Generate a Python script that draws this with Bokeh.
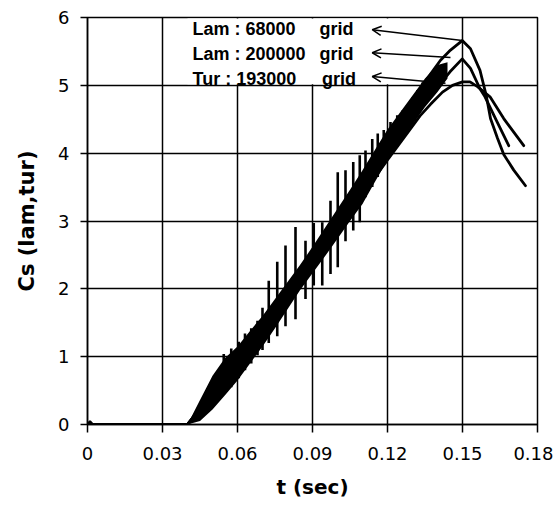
from bokeh.plotting import figure
from bokeh.models import Range1d, FixedTicker, Arrow, OpenHead, ColumnDataSource, BoxAnnotation
from bokeh.core.properties import value
from bokeh.embed import file_html
from bokeh.resources import INLINE

# ---------------- data ----------------
x_ticks = [0, 0.03, 0.06, 0.09, 0.12, 0.15, 0.18]
x_tick_labels = ["0", "0.03", "0.06", "0.09", "0.12", "0.15", "0.18"]
y_ticks = [0, 1, 2, 3, 4, 5, 6]

series_names = ["Lam : 68000", "Lam : 200000", "Tur : 193000"]
grid_word = "grid"

# Lam 68000 grid (oscillating run, sharpest peak)
lam68_t = [0, 0.001, 0.002, 0.040, 0.060, 0.080, 0.100, 0.120, 0.130, 0.1359, 0.1412, 0.1452,
           0.1499, 0.1532, 0.1570, 0.1595, 0.1612, 0.1640, 0.1665, 0.1705, 0.1752]
lam68_cs = [0, 0.04, 0, 0, 0.98, 1.98, 2.98, 4.10, 4.72, 5.10, 5.37, 5.52,
            5.66, 5.54, 5.22, 4.85, 4.51, 4.22, 3.98, 3.75, 3.52]

# Lam 200000 grid
lam200_t = [0, 0.040, 0.060, 0.080, 0.100, 0.120, 0.1372, 0.1450, 0.1499,
            0.1532, 0.1570, 0.1590, 0.1632, 0.1685]
lam200_cs = [0, 0, 0.92, 1.92, 2.92, 3.95, 4.85, 5.20, 5.39,
             5.25, 4.95, 4.83, 4.51, 4.11]

# Tur 193000 grid
tur193_t = [0, 0.040, 0.060, 0.080, 0.100, 0.120, 0.1330, 0.1372, 0.1420, 0.1460, 0.1500,
            0.1530, 0.1560, 0.1610, 0.1665, 0.1745]
tur193_cs = [0, 0, 0.88, 1.88, 2.88, 3.90, 4.55, 4.72, 4.90, 5.00, 5.05,
             5.05, 4.98, 4.83, 4.51, 4.11]

# dense oscillation band of the Lam 68000 run (lower / upper envelope)
band_t = [0.040, 0.045, 0.050, 0.055, 0.060, 0.065, 0.070, 0.075, 0.080, 0.085, 0.090,
          0.095, 0.100, 0.105, 0.110, 0.115, 0.120, 0.125, 0.130, 0.135, 0.140, 0.144]
band_lo = [0.00, 0.05, 0.22, 0.43, 0.65, 0.90, 1.15, 1.42, 1.70, 1.98, 2.23,
           2.48, 2.74, 3.00, 3.25, 3.58, 3.90, 4.15, 4.42, 4.68, 4.90, 5.10]
band_hi = [0.00, 0.36, 0.72, 0.98, 1.15, 1.38, 1.60, 1.85, 2.10, 2.35, 2.62,
           2.90, 3.18, 3.46, 3.75, 4.05, 4.35, 4.60, 4.85, 5.10, 5.30, 5.34]

# oscillation spikes of the Lam 68000 run
spike_t = [0.0545, 0.0575, 0.0605, 0.0630, 0.0655, 0.0680, 0.0700, 0.0725, 0.0759, 0.0792,
           0.0832, 0.0872, 0.0905, 0.0939, 0.0972, 0.1001, 0.1032, 0.1063, 0.1089, 0.1112,
           0.1139, 0.1161, 0.1185, 0.1212, 0.1239, 0.1260, 0.1279, 0.1300, 0.1320, 0.1340]
spike_top = [1.04, 1.12, 1.22, 1.34, 1.42, 1.53, 1.72, 2.12, 2.40, 2.64,
             2.91, 2.71, 2.97, 2.98, 3.30, 3.72, 3.75, 3.87, 3.97, 4.04,
             4.21, 4.29, 4.34, 4.46, 4.56, 4.63, 4.71, 4.82, 4.93, 5.04]
spike_bot = [0.45, 0.55, 0.68, 0.80, 0.90, 1.02, 1.10, 1.20, 1.30, 1.45,
             1.55, 1.85, 2.05, 2.05, 2.22, 2.32, 2.70, 2.86, 2.98, 3.35,
             3.50, 3.65, 3.82, 4.04, 4.15, 4.25, 4.40, 4.50, 4.62, 4.74]

# arrows: from the curves near their peaks back to the labels
arrow_from_t = [0.1499, 0.1452, 0.1432]
arrow_from_cs = [5.66, 5.41, 5.03]

# ---------------- layout / style ----------------
label_x = 0.042
grid_x = [0.0928, 0.0928, 0.0938]
label_y = [5.836, 5.467, 5.099]
arrow_tip_t = [0.1139, 0.1139, 0.1139]
arrow_tip_y = [5.82, 5.48, 5.13]

BLACK = "#000000"

p = figure(width=553, height=505,
           x_range=Range1d(0, 0.18), y_range=Range1d(0, 6),
           output_backend="svg", toolbar_location=None,
           min_border_left=87, min_border_right=16,
           min_border_top=17, min_border_bottom=81)
p.background_fill_color = "white"
p.border_fill_color = "white"
p.outline_line_color = BLACK
p.outline_line_width = 1.5

for g, ticks in ((p.xgrid, x_ticks), (p.ygrid, y_ticks)):
    g.ticker = FixedTicker(ticks=ticks)
    g.grid_line_color = BLACK
    g.grid_line_width = 1.5
    g.grid_line_alpha = 1.0

p.xaxis.ticker = FixedTicker(ticks=x_ticks)
p.xaxis.major_label_overrides = {t: lab for t, lab in zip(x_ticks, x_tick_labels)}
p.yaxis.ticker = FixedTicker(ticks=y_ticks)
for ax in (p.xaxis[0], p.yaxis[0]):
    ax.axis_line_color = BLACK
    ax.axis_line_width = 1.5
    ax.major_tick_line_color = BLACK
    ax.major_tick_line_width = 1.5
    ax.major_tick_in = 0
    ax.minor_tick_line_color = None
    ax.major_label_text_font = "DejaVu Sans"
    ax.major_label_text_font_size = "18px"
    ax.major_label_text_color = BLACK
    ax.axis_label_text_font = "DejaVu Sans"
    ax.axis_label_text_font_style = "bold"
    ax.axis_label_text_color = BLACK
p.xaxis.major_tick_out = 8
p.xaxis.major_label_standoff = 14
p.xaxis.axis_label = "t (sec)"
p.xaxis.axis_label_text_font_size = "20px"
p.xaxis.axis_label_standoff = 12
p.yaxis.major_tick_out = 7
p.yaxis.major_label_standoff = 11
p.yaxis.axis_label = "Cs (lam,tur)"
p.yaxis.axis_label_text_font_size = "21px"
p.yaxis.axis_label_standoff = 16

# white background of the label block (hides grid lines behind it)
p.add_layout(BoxAnnotation(left=0.040, right=0.125, bottom=5.015, top=5.985,
                           fill_color="white", fill_alpha=1.0, line_color=None,
                           level="underlay"))

# dense oscillation band and spikes
p.varea(x=band_t, y1=band_lo, y2=band_hi, fill_color=BLACK)
p.segment(x0=spike_t, y0=spike_bot, x1=spike_t, y1=spike_top,
          line_color=BLACK, line_width=2.6)

# the three runs
for t, cs in ((lam68_t, lam68_cs), (lam200_t, lam200_cs), (tur193_t, tur193_cs)):
    p.line(t, cs, line_color=BLACK, line_width=2.8, line_join="round", line_cap="round")

# labels
p.text(x=[label_x] * 3, y=label_y, text=series_names,
       text_font=value("Liberation Sans"), text_font_style="bold",
       text_font_size=value("18px"), text_color=BLACK,
       text_align="left", text_baseline="middle")
p.text(x=grid_x, y=label_y, text=[grid_word] * 3,
       text_font=value("Liberation Sans"), text_font_style="bold",
       text_font_size=value("18px"), text_color=BLACK,
       text_align="left", text_baseline="middle")

arrow_src = ColumnDataSource(data=dict(x0=arrow_from_t, y0=arrow_from_cs,
                                       x1=arrow_tip_t, y1=arrow_tip_y))
p.add_layout(Arrow(end=OpenHead(size=9, line_width=1.5, line_color=BLACK),
                   x_start="x0", y_start="y0", x_end="x1", y_end="y1",
                   source=arrow_src, line_color=BLACK, line_width=1.5))

open("out.html", "w").write(file_html(p, INLINE))
